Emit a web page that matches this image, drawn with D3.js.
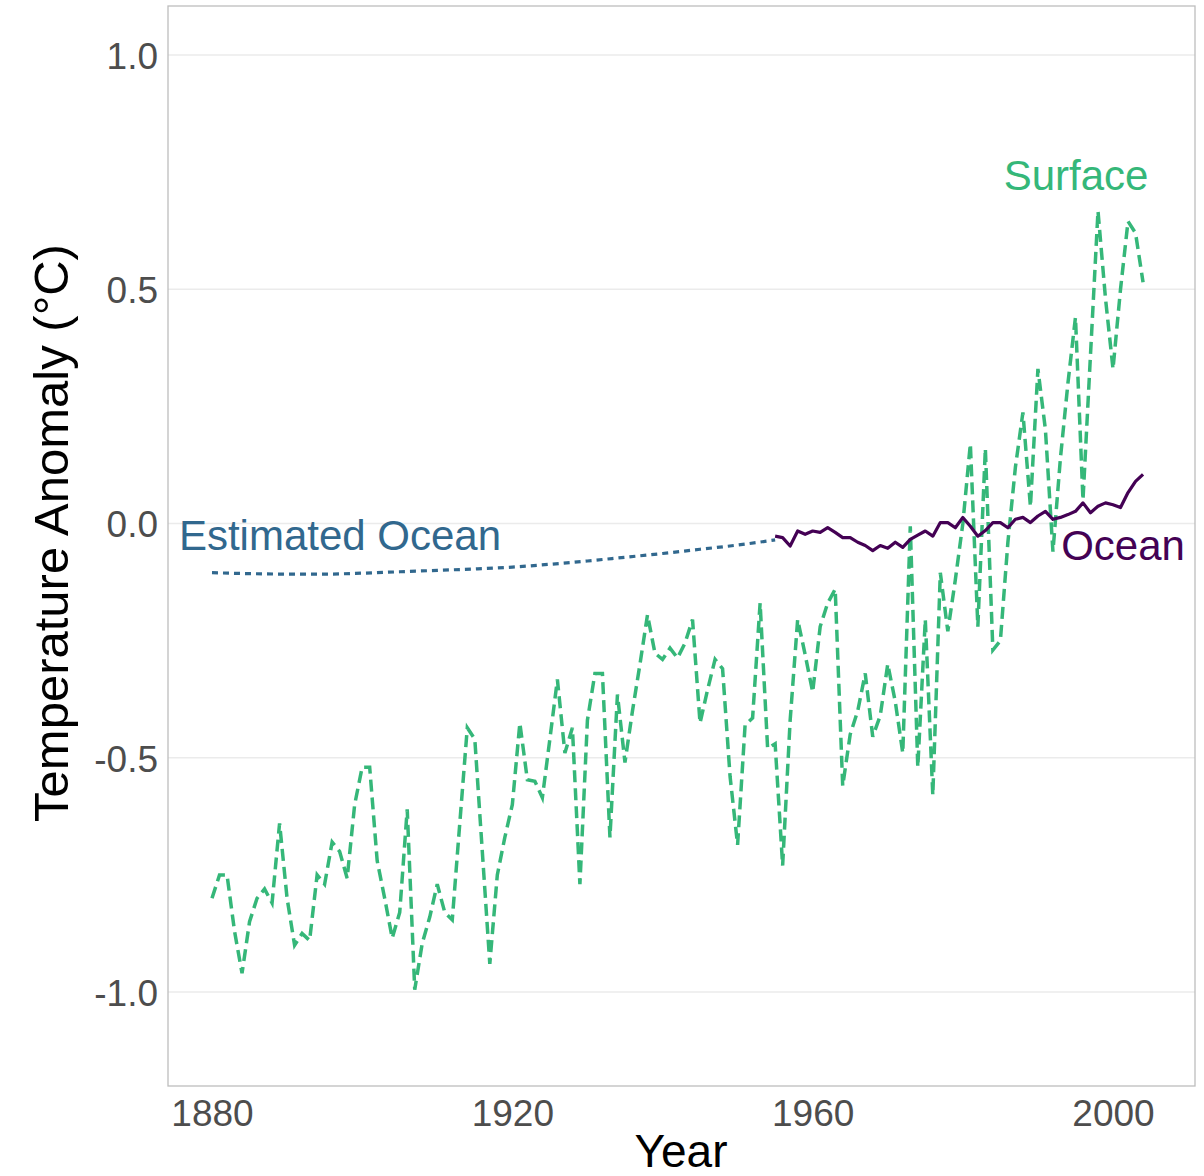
<!DOCTYPE html>
<html>
<head>
<meta charset="utf-8">
<script src="https://cdn.jsdelivr.net/npm/d3@7"></script>
<style>
	body { margin: 0; background: #fff; }
	text { font-family: "Liberation Sans", Arial, sans-serif; }
</style>
</head>
<body>
<svg id="chart"></svg>
<script>

// surface anomaly, one value per year from 1880 to 2004
var surfaceStart = 1880;
var surface = [
	-0.80, -0.75, -0.75, -0.87, -0.96, -0.85, -0.80, -0.78, -0.81, -0.64,
	-0.80, -0.90, -0.875, -0.89, -0.75, -0.77, -0.68, -0.70, -0.757, -0.60,
	-0.52, -0.52, -0.72, -0.80, -0.885, -0.83, -0.61, -0.995, -0.896, -0.84,
	-0.77, -0.83, -0.846, -0.64, -0.436, -0.46, -0.70, -0.94, -0.75, -0.67,
	-0.60, -0.426, -0.547, -0.55, -0.585, -0.46, -0.333, -0.49, -0.436, -0.77,
	-0.42, -0.32, -0.32, -0.67, -0.365, -0.51, -0.40, -0.30, -0.195, -0.277,
	-0.29, -0.266, -0.287, -0.255, -0.205, -0.426, -0.355, -0.29, -0.31, -0.54,
	-0.686, -0.43, -0.415, -0.17, -0.48, -0.47, -0.73, -0.42, -0.205, -0.28,
	-0.36, -0.22, -0.17, -0.14, -0.56, -0.45, -0.40, -0.32, -0.455, -0.41,
	-0.30, -0.38, -0.49, -0.006, -0.52, -0.205, -0.58, -0.105, -0.23, -0.12,
	0.0, 0.17, -0.22, 0.16, -0.27, -0.25, -0.04, 0.12, 0.237, 0.036,
	0.33, 0.20, -0.06, 0.14, 0.30, 0.44, 0.05, 0.36, 0.667, 0.48,
	0.33, 0.50, 0.645, 0.62, 0.515
];

// measured ocean, 1955 to 2004
var oceanStart = 1955;
var ocean = [
	-0.027, -0.03, -0.048, -0.016, -0.023, -0.016, -0.019, -0.009, -0.019, -0.03,
	-0.03, -0.04, -0.047, -0.058, -0.047, -0.053, -0.04, -0.051, -0.034, -0.025,
	-0.016, -0.027, 0.002, 0.002, -0.009, 0.013, -0.006, -0.027, -0.015, 0.002,
	0.002, -0.009, 0.009, 0.013, 0.002, 0.016, 0.026, 0.009, 0.013, 0.019,
	0.026, 0.044, 0.023, 0.037, 0.044, 0.04, 0.034, 0.066, 0.09, 0.105
];

// estimated ocean (smooth curve)
var estYears = [1880, 1885, 1890, 1895, 1900, 1905, 1910, 1915, 1920, 1925, 1930, 1935, 1940, 1945, 1950, 1955];
var estOcean = [-0.105, -0.107, -0.108, -0.108, -0.106, -0.103, -0.100, -0.097, -0.093, -0.087, -0.080, -0.072, -0.064, -0.055, -0.046, -0.035];

var xTicks = [1880, 1920, 1960, 2000];
var yTicks = [-1.0, -0.5, 0.0, 0.5, 1.0];

var colSurface = '#35B779',
	colEst = '#31688E',
	colOcean = '#440154';

main();

function main() {

	var W = 1204, H = 1176,
		panel = { left: 168, right: 1195, top: 6, bottom: 1086 };

	var svg = d3.select('#chart')
		.attr('width', W)
		.attr('height', H);

	var x = d3.scaleLinear()
			.domain([1874.14, 2010.92])
			.range([panel.left, panel.right]),
		y = d3.scaleLinear()
			.domain([-1.2006, 1.1046])
			.range([panel.bottom, panel.top]);

	// grid
	svg.append('g')
		.selectAll('line')
		.data(yTicks)
		.enter()
		.append('line')
		.attr('x1', panel.left)
		.attr('x2', panel.right)
		.attr('y1', d => y(d))
		.attr('y2', d => y(d))
		.attr('stroke', '#ebebeb')
		.attr('stroke-width', 1.5);

	svg.append('rect')
		.attr('x', panel.left)
		.attr('y', panel.top)
		.attr('width', panel.right - panel.left)
		.attr('height', panel.bottom - panel.top)
		.attr('fill', 'none')
		.attr('stroke', '#bdbdbd')
		.attr('stroke-width', 1.3);

	// axes, ticks hidden like the original; plain hyphen for minus
	var fmtY = d => d3.format('.1f')(d).replace('\u2212', '-');

	var xAxis = svg.append('g')
		.attr('transform', 'translate(0,' + panel.bottom + ')')
		.call(d3.axisBottom(x).tickValues(xTicks).tickFormat(d3.format('d')).tickSize(0).tickPadding(14));
	var yAxis = svg.append('g')
		.attr('transform', 'translate(' + panel.left + ',0)')
		.call(d3.axisLeft(y).tickValues(yTicks).tickFormat(fmtY).tickSize(0).tickPadding(10));

	[xAxis, yAxis].forEach(function (a) {
		a.select('.domain').remove();
		a.selectAll('text')
			.attr('fill', '#4d4d4d')
			.style('font-size', '37px')
			.style('font-family', '"Liberation Sans", Arial, sans-serif');
	});
	yAxis.selectAll('text').attr('dy', '0.36em');

	// lines
	var line = d3.line()
		.x(d => x(d[0]))
		.y(d => y(d[1]));

	var surfData = surface.map((v, i) => [surfaceStart + i, v]),
		oceanData = ocean.map((v, i) => [oceanStart + i, v]),
		estData = estYears.map((yr, i) => [yr, estOcean[i]]);

	svg.append('path')
		.datum(surfData)
		.attr('d', line)
		.attr('fill', 'none')
		.attr('stroke', colSurface)
		.attr('stroke-width', 3.5)
		.attr('stroke-dasharray', '12,6');

	svg.append('path')
		.datum(estData)
		.attr('d', line.curve(d3.curveMonotoneX))
		.attr('fill', 'none')
		.attr('stroke', colEst)
		.attr('stroke-width', 3.2)
		.attr('stroke-dasharray', '6,5');

	svg.append('path')
		.datum(oceanData)
		.attr('d', d3.line().x(d => x(d[0])).y(d => y(d[1])))
		.attr('fill', 'none')
		.attr('stroke', colOcean)
		.attr('stroke-width', 3.2)
		.attr('stroke-linejoin', 'round');

	// labels
	var lab = [
		{ t: 'Surface', c: colSurface, x: 1076, y: 190 },
		{ t: 'Estimated Ocean', c: colEst, x: 340, y: 550 },
		{ t: 'Ocean', c: colOcean, x: 1123, y: 560 }
	];
	svg.append('g')
		.selectAll('text')
		.data(lab)
		.enter()
		.append('text')
		.attr('x', d => d.x)
		.attr('y', d => d.y)
		.attr('text-anchor', 'middle')
		.attr('fill', d => d.c)
		.style('font-size', '42px')
		.text(d => d.t);

	// axis titles
	svg.append('text')
		.attr('x', 681)
		.attr('y', 1167)
		.attr('text-anchor', 'middle')
		.style('font-size', '46px')
		.attr('fill', '#000')
		.text('Year');

	svg.append('text')
		.attr('transform', 'translate(68,533) rotate(-90)')
		.attr('text-anchor', 'middle')
		.style('font-size', '49px')
		.attr('fill', '#000')
		.text('Temperature Anomaly (°C)');
}
</script>
</body>
</html>
